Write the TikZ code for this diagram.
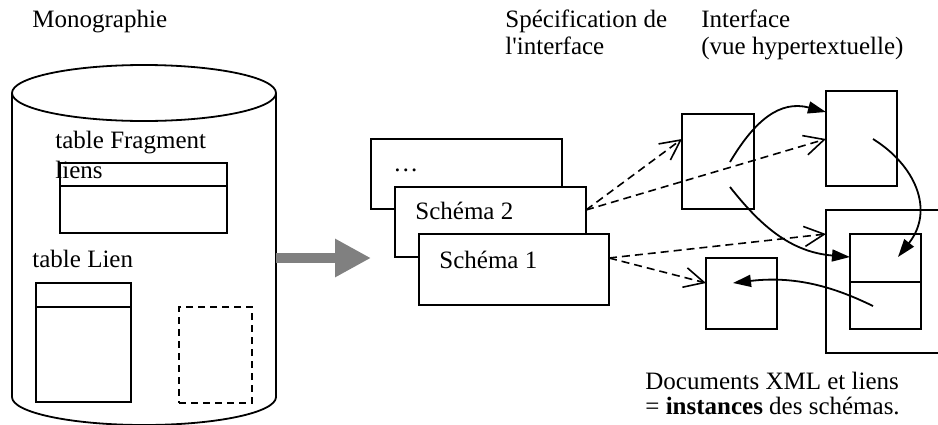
\documentclass[tikz,border=0pt]{standalone}
\usepackage{fontspec}
\setmainfont{Liberation Serif}
\usetikzlibrary{arrows.meta,fit,calc}
\begin{document}
\begin{tikzpicture}[x=0.5pt,y=-0.5pt,
  txt/.style={anchor=base west,inner sep=0,font=\fontsize{12.5}{15}\selectfont},
  box/.style={draw,line width=1pt,inner sep=0pt,fill=white},
  darr/.style={line width=0.8pt,dash pattern=on 4pt off 2.5pt,-{Straight Barb[length=10pt,width=10pt]}},
  carr/.style={line width=0.9pt,-{Triangle[length=9pt,width=6pt]}}
]
\clip (0,0) rectangle (938,424);
% titles
\node[txt] (t1) at (32,27) {Monographie};
\node[txt] (t2) at (505,27) {Spécification de};
\node[txt] (t3) at (505,54) {l\textquotesingle interface};
\node[txt] (t4) at (701,27) {Interface};
\node[txt] (t5) at (701,54) {(vue hypertextuelle)};
% cylinder
\draw[line width=0.9pt] (12,93) -- (12,397) arc[start angle=180,end angle=360,x radius=66pt,y radius=14pt] -- (276,93);
\draw[line width=0.9pt] (144,93) ellipse[x radius=66pt,y radius=14pt];
\coordinate (cyl) at (276,258);
% table Fragment
\node[box,fit={(60,163) (227,233)}] (TF) {};
\draw[line width=1pt] (60,186) -- (227,186);
\node[txt] (tf1) at (55,148) {table Fragment};
\node[txt] (tf2) at (55,178) {liens};
% table Lien
\node[txt] (tl) at (32,267) {table Lien};
\node[box,fit={(36,283) (131,402)}] (TL) {};
\draw[line width=1pt] (36,307) -- (131,307);
\node[draw,line width=1pt,dash pattern=on 3.5pt off 2.5pt,inner sep=0pt,fit={(179,307) (252,403)}] (TD) {};
% gray arrow
\coordinate (garr) at (371,258);
\draw[line width=5pt,draw={rgb,255:red,128;green,128;blue,128},-{Triangle[length=18pt,width=18pt,fill={rgb,255:red,128;green,128;blue,128}]}] (cyl) -- (garr);
% schemas
\node[box,fit={(371,139) (562,209)}] (S3) {};
\node[txt] (s3t) at (393,171) {…};
\node[box,fit={(395,187) (586,257)}] (S2) {};
\node[txt] (s2t) at (415,219) {Schéma 2};
\node[box,fit={(419,234) (609,305)}] (S1) {};
\node[txt] (s1t) at (439,268) {Schéma 1};
% interface boxes
\node[box,fit={(682,114) (754,209)}] (A) {};
\node[box,fit={(826,91) (897,186)}] (B) {};
\node[box,fit={(706,258) (777,329)}] (C) {};
\node[box,fit={(826,210) (960,353)}] (D) {};
\node[box,fit={(850,234) (921,282)}] (D1) {};
\node[box,fit={(850,282) (921,329)}] (D2) {};
% dashed connectors
\coordinate (s2o) at (586,210);
\coordinate (s1o) at (609,258);
\coordinate (ain) at (682,139);
\coordinate (bin) at (826,139);
\coordinate (din) at (826,234);
\coordinate (cin) at (706,283);
\draw[darr] (s2o) -- (ain);
\draw[darr] (s2o) -- (bin);
\draw[darr] (s1o) -- (din);
\draw[darr] (s1o) -- (cin);
% solid curved links
\coordinate (a1) at (730,162);
\coordinate (a2) at (730,187);
\coordinate (b1) at (873,139);
\coordinate (d2s) at (873,306);
\coordinate (bt) at (826,112);
\coordinate (d1t) at (850,257);
\coordinate (d1u) at (898,257);
\coordinate (ct) at (733,283);
\draw[carr] (a1) .. controls (755,120) and (780,100) .. (bt);
\draw[carr] (a2) .. controls (760,225) and (790,252) .. (d1t);
\draw[carr] (b1) .. controls (915,165) and (935,210) .. (d1u);
\draw[carr] (d2s) .. controls (840,290) and (800,275) .. (ct);
% caption
\node[txt] (c1) at (645,389) {Documents XML et liens};
\node[txt] (c2) at (645,414) {= \textbf{instances} des schémas.};
\end{tikzpicture}
\end{document}
